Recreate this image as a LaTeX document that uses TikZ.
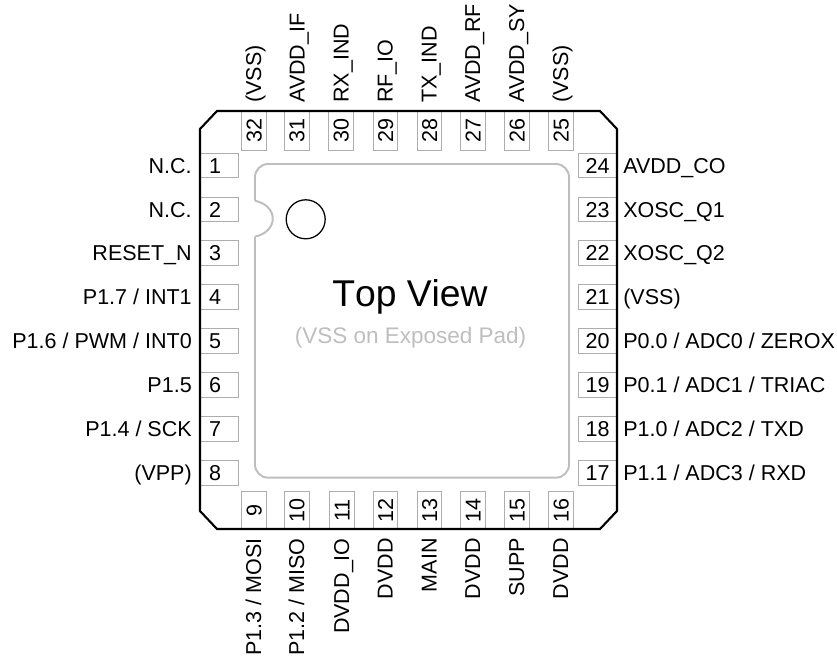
\documentclass[tikz,border=0pt]{standalone}
\usepackage{fontspec}
\setmainfont{Liberation Sans}
\definecolor{pingray}{HTML}{ADADAD}
\definecolor{padgray}{HTML}{BEBEBE}
\tikzset{
  pinbox/.style={draw=pingray,line width=0.7pt,inner sep=0pt,font=\fontsize{15.3}{17}\selectfont,text height=10.9pt,text depth=0pt},
  pinleft/.style={pinbox,minimum width=0.95cm,minimum height=0.61cm,execute at end node={\kern 5.7pt}},
  pinright/.style={pinbox,minimum width=0.975cm,minimum height=0.61cm},
  pintop/.style={pinbox,rotate=90,minimum width=0.975cm,minimum height=0.61cm},
  pinbottom/.style={pinbox,rotate=90,minimum width=0.94cm,minimum height=0.61cm},
  pinlabel/.style={inner sep=0pt,font=\fontsize{15.3}{17}\selectfont,text height=10.9pt,text depth=0pt},
}
\begin{document}
\begin{tikzpicture}[x=0.025cm,y=-0.025cm]
\useasboundingbox (0,0) rectangle (837,656);
% left side
\draw (219,165.5) node[pinleft] (pin1) {1};
\draw (219,209.5) node[pinleft] (pin2) {2};
\draw (219,253) node[pinleft] (pin3) {3};
\draw (219,297) node[pinleft] (pin4) {4};
\draw (219,341) node[pinleft] (pin5) {5};
\draw (219,385) node[pinleft] (pin6) {6};
\draw (219,429) node[pinleft] (pin7) {7};
\draw (219,473) node[pinleft] (pin8) {8};
\draw (192,165.5) node[pinlabel,anchor=east] (lab1) {N.C.};
\draw (192,209.5) node[pinlabel,anchor=east] (lab2) {N.C.};
\draw (192,253) node[pinlabel,anchor=east] (lab3) {RESET\_N};
\draw (192,297) node[pinlabel,anchor=east] (lab4) {P1.7 / INT1};
\draw (192,341) node[pinlabel,anchor=east] (lab5) {P1.6 / PWM / INT0};
\draw (192,385) node[pinlabel,anchor=east] (lab6) {P1.5};
\draw (192,429) node[pinlabel,anchor=east] (lab7) {P1.4 / SCK};
\draw (192,473) node[pinlabel,anchor=east] (lab8) {(VPP)};
% bottom side
\draw (254,510.4) node[pinbottom] (pin9) {9};
\draw (296.8,510.4) node[pinbottom] (pin10) {10};
\draw (342,510.4) node[pinbottom] (pin11) {11};
\draw (385.5,510.4) node[pinbottom] (pin12) {12};
\draw (429.5,510.4) node[pinbottom] (pin13) {13};
\draw (473,510.4) node[pinbottom] (pin14) {14};
\draw (517,510.4) node[pinbottom] (pin15) {15};
\draw (561,510.4) node[pinbottom] (pin16) {16};
\draw (253.5,538) node[pinlabel,rotate=90,anchor=east] (lab9) {P1.3 / MOSI};
\draw (296.5,538) node[pinlabel,rotate=90,anchor=east] (lab10) {P1.2 / MISO};
\draw (341.5,538) node[pinlabel,rotate=90,anchor=east] (lab11) {DVDD\_IO};
\draw (385,538) node[pinlabel,rotate=90,anchor=east] (lab12) {DVDD};
\draw (429,538) node[pinlabel,rotate=90,anchor=east] (lab13) {MAIN};
\draw (472.5,538) node[pinlabel,rotate=90,anchor=east] (lab14) {DVDD};
\draw (516.5,538) node[pinlabel,rotate=90,anchor=east] (lab15) {SUPP};
\draw (560.5,538) node[pinlabel,rotate=90,anchor=east] (lab16) {DVDD};
% right side
\draw (597.5,473) node[pinright] (pin17) {17};
\draw (597.5,429) node[pinright] (pin18) {18};
\draw (597.5,385) node[pinright] (pin19) {19};
\draw (597.5,341) node[pinright] (pin20) {20};
\draw (597.5,297) node[pinright] (pin21) {21};
\draw (597.5,253) node[pinright] (pin22) {22};
\draw (597.5,209.5) node[pinright] (pin23) {23};
\draw (597.5,165.5) node[pinright] (pin24) {24};
\draw (623,473) node[pinlabel,anchor=west] (lab17) {P1.1 / ADC3 / RXD};
\draw (623,429) node[pinlabel,anchor=west] (lab18) {P1.0 / ADC2 / TXD};
\draw (623,385) node[pinlabel,anchor=west] (lab19) {P0.1 / ADC1 / TRIAC};
\draw (623,341) node[pinlabel,anchor=west] (lab20) {P0.0 / ADC0 / ZEROX};
\draw (623,297) node[pinlabel,anchor=west] (lab21) {(VSS)};
\draw (623,253) node[pinlabel,anchor=west] (lab22) {XOSC\_Q2};
\draw (623,209.5) node[pinlabel,anchor=west] (lab23) {XOSC\_Q1};
\draw (623,165.5) node[pinlabel,anchor=west] (lab24) {AVDD\_CO};
% top side
\draw (561,130.5) node[pintop] (pin25) {25};
\draw (517,130.5) node[pintop] (pin26) {26};
\draw (473,130.5) node[pintop] (pin27) {27};
\draw (429.5,130.5) node[pintop] (pin28) {28};
\draw (385.5,130.5) node[pintop] (pin29) {29};
\draw (341,130.5) node[pintop] (pin30) {30};
\draw (296.8,130.5) node[pintop] (pin31) {31};
\draw (254,130.5) node[pintop] (pin32) {32};
\draw (560.5,103) node[pinlabel,rotate=90,anchor=west] (lab25) {(VSS)};
\draw (516.5,103) node[pinlabel,rotate=90,anchor=west] (lab26) {AVDD\_SY};
\draw (472.5,103) node[pinlabel,rotate=90,anchor=west] (lab27) {AVDD\_RF};
\draw (429,103) node[pinlabel,rotate=90,anchor=west] (lab28) {TX\_IND};
\draw (385,103) node[pinlabel,rotate=90,anchor=west] (lab29) {RF\_IO};
\draw (341,103) node[pinlabel,rotate=90,anchor=west] (lab30) {RX\_IND};
\draw (297,103) node[pinlabel,rotate=90,anchor=west] (lab31) {AVDD\_IF};
\draw (253.5,103) node[pinlabel,rotate=90,anchor=west] (lab32) {(VSS)};
% package outline
\draw[line width=1.5pt] (217,111) -- (600,111) -- (617,129) -- (617,511) -- (600,529) -- (217,529) -- (200,511) -- (200,129) -- cycle;
% exposed pad
\draw[padgray,line width=1.4pt,rounded corners=0.33cm] (255,200.7) -- (255,164) -- (569,164) -- (569,477.7) -- (255,477.7) -- (255,236.7);
\draw[padgray,line width=1.4pt] (255,236.7) .. controls (267,234) and (273,226) .. (272.7,218.7) .. controls (273,211) and (267,203.5) .. (255,200.7);
\draw[line width=0.9pt] (305.7,219.3) circle (19.5);
\draw (410,297.2) node[inner sep=0pt,font=\fontsize{26.5}{30}\selectfont\addfontfeature{Kerning=Off}] (title) {Top View};
\draw (410.5,337.2) node[inner sep=0pt,text=padgray,font=\fontsize{16}{18}\selectfont\addfontfeature{Kerning=Off}] (padnote) {(VSS on Exposed Pad)};
\end{tikzpicture}
\end{document}
